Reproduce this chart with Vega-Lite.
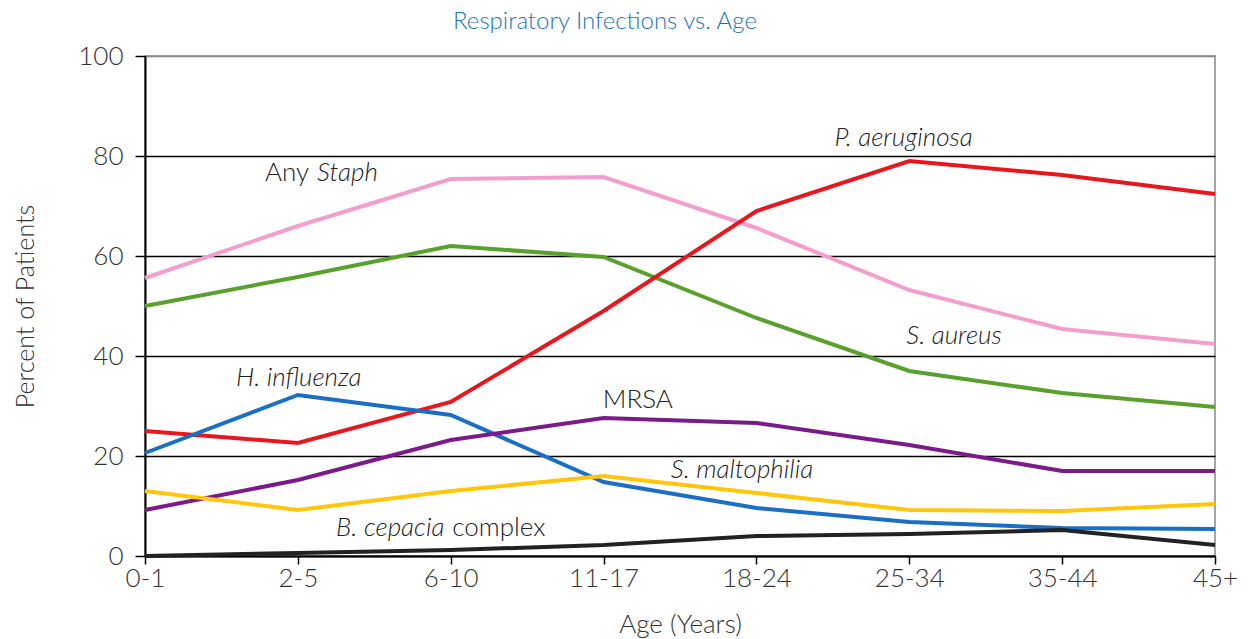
{
  "$schema": "https://vega.github.io/schema/vega-lite/v6.json",
  "width": 1070,
  "height": 500,
  "autosize": {"type": "none"},
  "padding": {"left": 145, "top": 56, "right": 41, "bottom": 83},
  "background": "white",
  "title": {
    "text": "Respiratory Infections vs. Age",
    "font": "Lato",
    "fontSize": 24,
    "fontWeight": 300,
    "color": "#1b75bb",
    "anchor": "middle",
    "dx": -75,
    "offset": 9
  },
  "config": {
    "view": {"stroke": "#888", "strokeWidth": 1.5},
    "font": "Lato"
  },
  "layer": [
    {
      "data": {"values": [
        {"series": "Any Staph", "ageIndex": 0, "value": 55.6},
        {"series": "Any Staph", "ageIndex": 1, "value": 66},
        {"series": "Any Staph", "ageIndex": 2, "value": 75.4},
        {"series": "Any Staph", "ageIndex": 3, "value": 75.8},
        {"series": "Any Staph", "ageIndex": 4, "value": 65.6},
        {"series": "Any Staph", "ageIndex": 5, "value": 53.2},
        {"series": "Any Staph", "ageIndex": 6, "value": 45.4},
        {"series": "Any Staph", "ageIndex": 7, "value": 42.4},
        {"series": "S. aureus", "ageIndex": 0, "value": 50},
        {"series": "S. aureus", "ageIndex": 1, "value": 55.8},
        {"series": "S. aureus", "ageIndex": 2, "value": 62},
        {"series": "S. aureus", "ageIndex": 3, "value": 59.8},
        {"series": "S. aureus", "ageIndex": 4, "value": 47.6},
        {"series": "S. aureus", "ageIndex": 5, "value": 37},
        {"series": "S. aureus", "ageIndex": 6, "value": 32.6},
        {"series": "S. aureus", "ageIndex": 7, "value": 29.8},
        {"series": "P. aeruginosa", "ageIndex": 0, "value": 25},
        {"series": "P. aeruginosa", "ageIndex": 1, "value": 22.6},
        {"series": "P. aeruginosa", "ageIndex": 2, "value": 30.8},
        {"series": "P. aeruginosa", "ageIndex": 3, "value": 49},
        {"series": "P. aeruginosa", "ageIndex": 4, "value": 69},
        {"series": "P. aeruginosa", "ageIndex": 5, "value": 79},
        {"series": "P. aeruginosa", "ageIndex": 6, "value": 76.2},
        {"series": "P. aeruginosa", "ageIndex": 7, "value": 72.4},
        {"series": "H. influenza", "ageIndex": 0, "value": 20.6},
        {"series": "H. influenza", "ageIndex": 1, "value": 32.2},
        {"series": "H. influenza", "ageIndex": 2, "value": 28.2},
        {"series": "H. influenza", "ageIndex": 3, "value": 14.8},
        {"series": "H. influenza", "ageIndex": 4, "value": 9.6},
        {"series": "H. influenza", "ageIndex": 5, "value": 6.8},
        {"series": "H. influenza", "ageIndex": 6, "value": 5.6},
        {"series": "H. influenza", "ageIndex": 7, "value": 5.4},
        {"series": "MRSA", "ageIndex": 0, "value": 9.2},
        {"series": "MRSA", "ageIndex": 1, "value": 15.2},
        {"series": "MRSA", "ageIndex": 2, "value": 23.2},
        {"series": "MRSA", "ageIndex": 3, "value": 27.6},
        {"series": "MRSA", "ageIndex": 4, "value": 26.6},
        {"series": "MRSA", "ageIndex": 5, "value": 22.2},
        {"series": "MRSA", "ageIndex": 6, "value": 17},
        {"series": "MRSA", "ageIndex": 7, "value": 17},
        {"series": "S. maltophilia", "ageIndex": 0, "value": 13},
        {"series": "S. maltophilia", "ageIndex": 1, "value": 9.2},
        {"series": "S. maltophilia", "ageIndex": 2, "value": 13},
        {"series": "S. maltophilia", "ageIndex": 3, "value": 16},
        {"series": "S. maltophilia", "ageIndex": 4, "value": 12.6},
        {"series": "S. maltophilia", "ageIndex": 5, "value": 9.2},
        {"series": "S. maltophilia", "ageIndex": 6, "value": 9},
        {"series": "S. maltophilia", "ageIndex": 7, "value": 10.4},
        {"series": "B. cepacia complex", "ageIndex": 0, "value": 0},
        {"series": "B. cepacia complex", "ageIndex": 1, "value": 0.6},
        {"series": "B. cepacia complex", "ageIndex": 2, "value": 1.2},
        {"series": "B. cepacia complex", "ageIndex": 3, "value": 2.2},
        {"series": "B. cepacia complex", "ageIndex": 4, "value": 4},
        {"series": "B. cepacia complex", "ageIndex": 5, "value": 4.4},
        {"series": "B. cepacia complex", "ageIndex": 6, "value": 5.2},
        {"series": "B. cepacia complex", "ageIndex": 7, "value": 2.2}
      ]},
      "mark": {"type": "line", "strokeWidth": 4, "clip": false},
      "encoding": {
        "x": {
          "field": "ageIndex", "type": "quantitative",
          "scale": {"domain": [0, 7], "nice": false, "zero": false},
          "axis": {
            "title": "Age (Years)",
            "values": [0, 1, 2, 3, 4, 5, 6, 7],
            "labelExpr": "['0-1','2-5','6-10','11-17','18-24','25-34','35-44','45+'][datum.value]",
            "labelFontSize": 26,
            "labelColor": "#333",
            "labelPadding": 1,
            "labelFont": "Lato",
            "labelFontWeight": 300,
            "labelFlush": false,
            "tickColor": "black",
            "tickSize": 8,
            "tickWidth": 1.5,
            "domainColor": "black",
            "domainWidth": 2,
            "grid": false,
            "titleFontSize": 26,
            "titleFont": "Lato",
            "titleFontWeight": 300,
            "titleColor": "#333",
            "titlePadding": 20
          }
        },
        "y": {
          "field": "value", "type": "quantitative",
          "scale": {"domain": [0, 100], "nice": false},
          "axis": {
            "title": "Percent of Patients",
            "values": [0, 20, 40, 60, 80, 100],
            "labelFontSize": 26,
            "labelColor": "#333",
            "labelPadding": 12,
            "labelFont": "Lato",
            "labelFontWeight": 300,
            "tickColor": "black",
            "tickSize": 10,
            "tickWidth": 1.5,
            "domainColor": "black",
            "domainWidth": 2,
            "grid": true,
            "gridColor": {"condition": {"test": "datum.value == 100", "value": "#888"}, "value": "black"},
            "gridWidth": 1.5,
            "gridOpacity": 1,
            "titleFontSize": 25,
            "titleFont": "Lato",
            "titleFontWeight": 300,
            "titleColor": "#333",
            "titlePadding": 39
          }
        },
        "color": {
          "field": "series", "type": "nominal", "legend": null,
          "scale": {
            "domain": ["Any Staph", "S. aureus", "P. aeruginosa", "H. influenza", "MRSA", "S. maltophilia", "B. cepacia complex"],
            "range": ["#f29fcf", "#5aa02c", "#e8161d", "#1a6fc4", "#7b1a8a", "#ffc60b", "#222222"]
          }
        },
        "order": {"value": 0}
      }
    },
    {
      "data": {"values": [
        {"text": "Staph", "xPos": 1.125, "yPos": 76.6},
        {"text": "P. aeruginosa", "xPos": 4.51, "yPos": 83.6},
        {"text": "S. aureus", "xPos": 4.98, "yPos": 44},
        {"text": "H. influenza", "xPos": 0.595, "yPos": 35.6},
        {"text": "S. maltophilia", "xPos": 3.44, "yPos": 17.2},
        {"text": "B. cepacia", "xPos": 1.25, "yPos": 5.6}
      ]},
      "mark": {"type": "text", "align": "left", "baseline": "middle", "fontSize": 26, "fontStyle": "italic", "fontWeight": 300, "font": "Lato", "color": "#222"},
      "encoding": {
        "x": {"field": "xPos", "type": "quantitative"},
        "y": {"field": "yPos", "type": "quantitative"},
        "text": {"field": "text"}
      }
    },
    {
      "data": {"values": [
        {"text": "Any", "xPos": 0.785, "yPos": 76.6},
        {"text": "MRSA", "xPos": 2.995, "yPos": 31.2},
        {"text": "complex", "xPos": 2.01, "yPos": 5.6}
      ]},
      "mark": {"type": "text", "align": "left", "baseline": "middle", "fontSize": 26, "fontWeight": 300, "font": "Lato", "color": "#222"},
      "encoding": {
        "x": {"field": "xPos", "type": "quantitative"},
        "y": {"field": "yPos", "type": "quantitative"},
        "text": {"field": "text"}
      }
    }
  ]
}
